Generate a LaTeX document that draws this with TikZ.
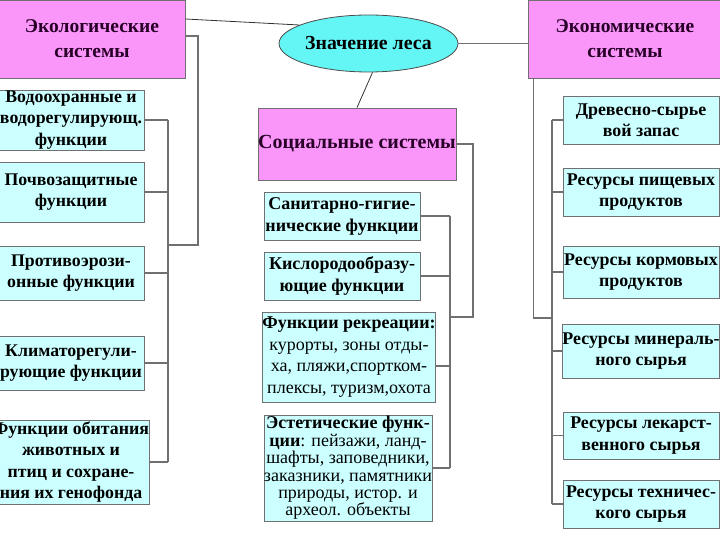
\documentclass[tikz,border=0pt]{standalone}
\usepackage{fontspec}
\setmainfont{Liberation Serif}
\usetikzlibrary{shapes.geometric,calc}
\definecolor{pinkfill}{RGB}{250,150,250}
\definecolor{cyanfill}{RGB}{204,255,255}
\definecolor{ellfill}{RGB}{100,245,245}
\definecolor{edge}{RGB}{112,112,112}
\definecolor{titletext}{RGB}{40,0,40}
\tikzset{
  sysbox/.style={draw=edge, line width=0.8pt, fill=pinkfill, inner sep=0pt, align=center,
    text=titletext, font=\bfseries\fontsize{19.5}{25}\selectfont},
  fbox/.style={draw=edge, line width=0.8pt, fill=cyanfill, inner sep=0pt, align=center,
    font=\bfseries\fontsize{17.8}{21.5}\selectfont},
  sbox/.style={fbox, font=\bfseries\fontsize{18}{22}\selectfont},
  ebox/.style={fbox, font=\bfseries\fontsize{17.9}{21.5}\selectfont},
  link/.style={draw=edge, line width=1.3pt},
  thin/.style={draw=black!80, line width=0.8pt}
}
\begin{document}
\begin{tikzpicture}[x=1pt,y=-1pt]
\useasboundingbox (0,0) rectangle (720,540);
% top level
\node[sysbox, minimum width=186pt, minimum height=78pt] (eco) at (92,39) {Экологические\\системы};
\node[sysbox, minimum width=194pt, minimum height=78pt] (econ) at (625,39) {Экономические\\системы};
\node[sysbox, minimum width=198pt, minimum height=72pt, font=\bfseries\fontsize{20}{25}\selectfont] (soc) at (357,144) {Социальные системы};
\node[ellipse, draw=black!70, line width=0.8pt, fill=ellfill, minimum width=139pt, minimum height=57pt,
  inner sep=0pt, font=\bfseries\fontsize{19.8}{22}\selectfont, text=black] (root) at (368.5,43.5) {Значение леса};
% ecological children
\node[fbox, minimum width=146pt, minimum height=60pt] (e1) at (71,120) {Водоохранные и\\водорегулирующ.\\функции};
\node[fbox, minimum width=146pt, minimum height=60pt] (e2) at (71,192) {Почвозащитные\\функции};
\node[fbox, minimum width=146pt, minimum height=54pt] (e3) at (71,273) {Противоэрози-\\онные функции};
\node[fbox, minimum width=146pt, minimum height=54pt] (e4) at (71,363) {Климаторегули-\\рующие функции};
\node[fbox, minimum width=146pt, minimum height=84pt] (e5) at (71,462) {Функции обитания\\животных и\\птиц и сохране-\\ния их генофонда};
% social children
\node[sbox, minimum width=156pt, minimum height=48pt] (s1) at (342,216) {Санитарно-гигие-\\нические функции};
\node[sbox, minimum width=156pt, minimum height=48pt] (s2) at (342,276) {Кислородообразу-\\ющие функции};
\node[sbox, minimum width=170pt, minimum height=90pt, font=\bfseries\fontsize{18}{21.7}\selectfont] (s3) at (349,357)
  {Функции рекреации:\\\mdseries курорты, зоны отды-\\\mdseries ха, пляжи,спортком-\\\mdseries плексы, туризм,охота};
\node[sbox, minimum width=168pt, minimum height=106pt, font=\fontsize{18}{17.4}\selectfont] (s4) at (348,468)
  {\textbf{Эстетические функ-}\\\textbf{ции}: пейзажи, ланд-\\шафты, заповедники,\\заказники, памятники\\природы, истор. и\\археол. объекты};
% economic children
\node[ebox, minimum width=156pt, minimum height=48pt] (c1) at (641,120) {Древесно-сырье\\вой запас};
\node[ebox, minimum width=156pt, minimum height=48pt] (c2) at (641,192) {Ресурсы пищевых\\продуктов};
\node[ebox, minimum width=156pt, minimum height=52pt] (c3) at (641,272) {Ресурсы кормовых\\продуктов};
\node[ebox, minimum width=156pt, minimum height=54pt] (c4) at (641,351) {Ресурсы минераль-\\ного сырья};
\node[ebox, minimum width=156pt, minimum height=47pt] (c5) at (641,435.5) {Ресурсы лекарст-\\венного сырья};
\node[ebox, minimum width=156pt, minimum height=48pt] (c6) at (641,504) {Ресурсы техничес-\\кого сырья};
% root links
\draw[thin] (root.165) -- (eco.north east |- 0,19);
\draw[link] (root.east) -- (econ.west |- root.east);
\draw[thin] (root.south) ++(4,0) -- (soc.north);
% ecological bracket
\coordinate (ej) at (168,245);
\draw[link] (eco.east |- 0,36) -- (198,36) |- (ej);
\draw[link] (e1.east -| ej) -- (e5.east -| ej);
\foreach \n in {e1,e2,e3,e4,e5} \draw[link] (\n.east) -- (\n.east -| ej);
% social bracket
\coordinate (sj) at (450,317);
\draw[link] (soc.east) -- (473,144) |- (sj);
\draw[link] (s1.east -| sj) -- (s4.east -| sj);
\draw[link] (s1.east) -- (s1.east -| sj);
\draw[link] (s2.east) -- (s2.east -| sj);
\draw[link] ($(s3.east)+(0,9)$) -- ($(s3.east -| sj)+(0,9)$);
\draw[link] (s4.east) -- (s4.east -| sj);
% economic bracket
\coordinate (cj) at (552,318);
\draw[link] (econ.south west) ++(6,0) |- (cj);
\draw[link] (c1.west -| cj) -- (c6.west -| cj);
\foreach \n in {c1,c2,c3,c4,c5,c6} \draw[link] (\n.west) -- (\n.west -| cj);
\end{tikzpicture}
\end{document}
